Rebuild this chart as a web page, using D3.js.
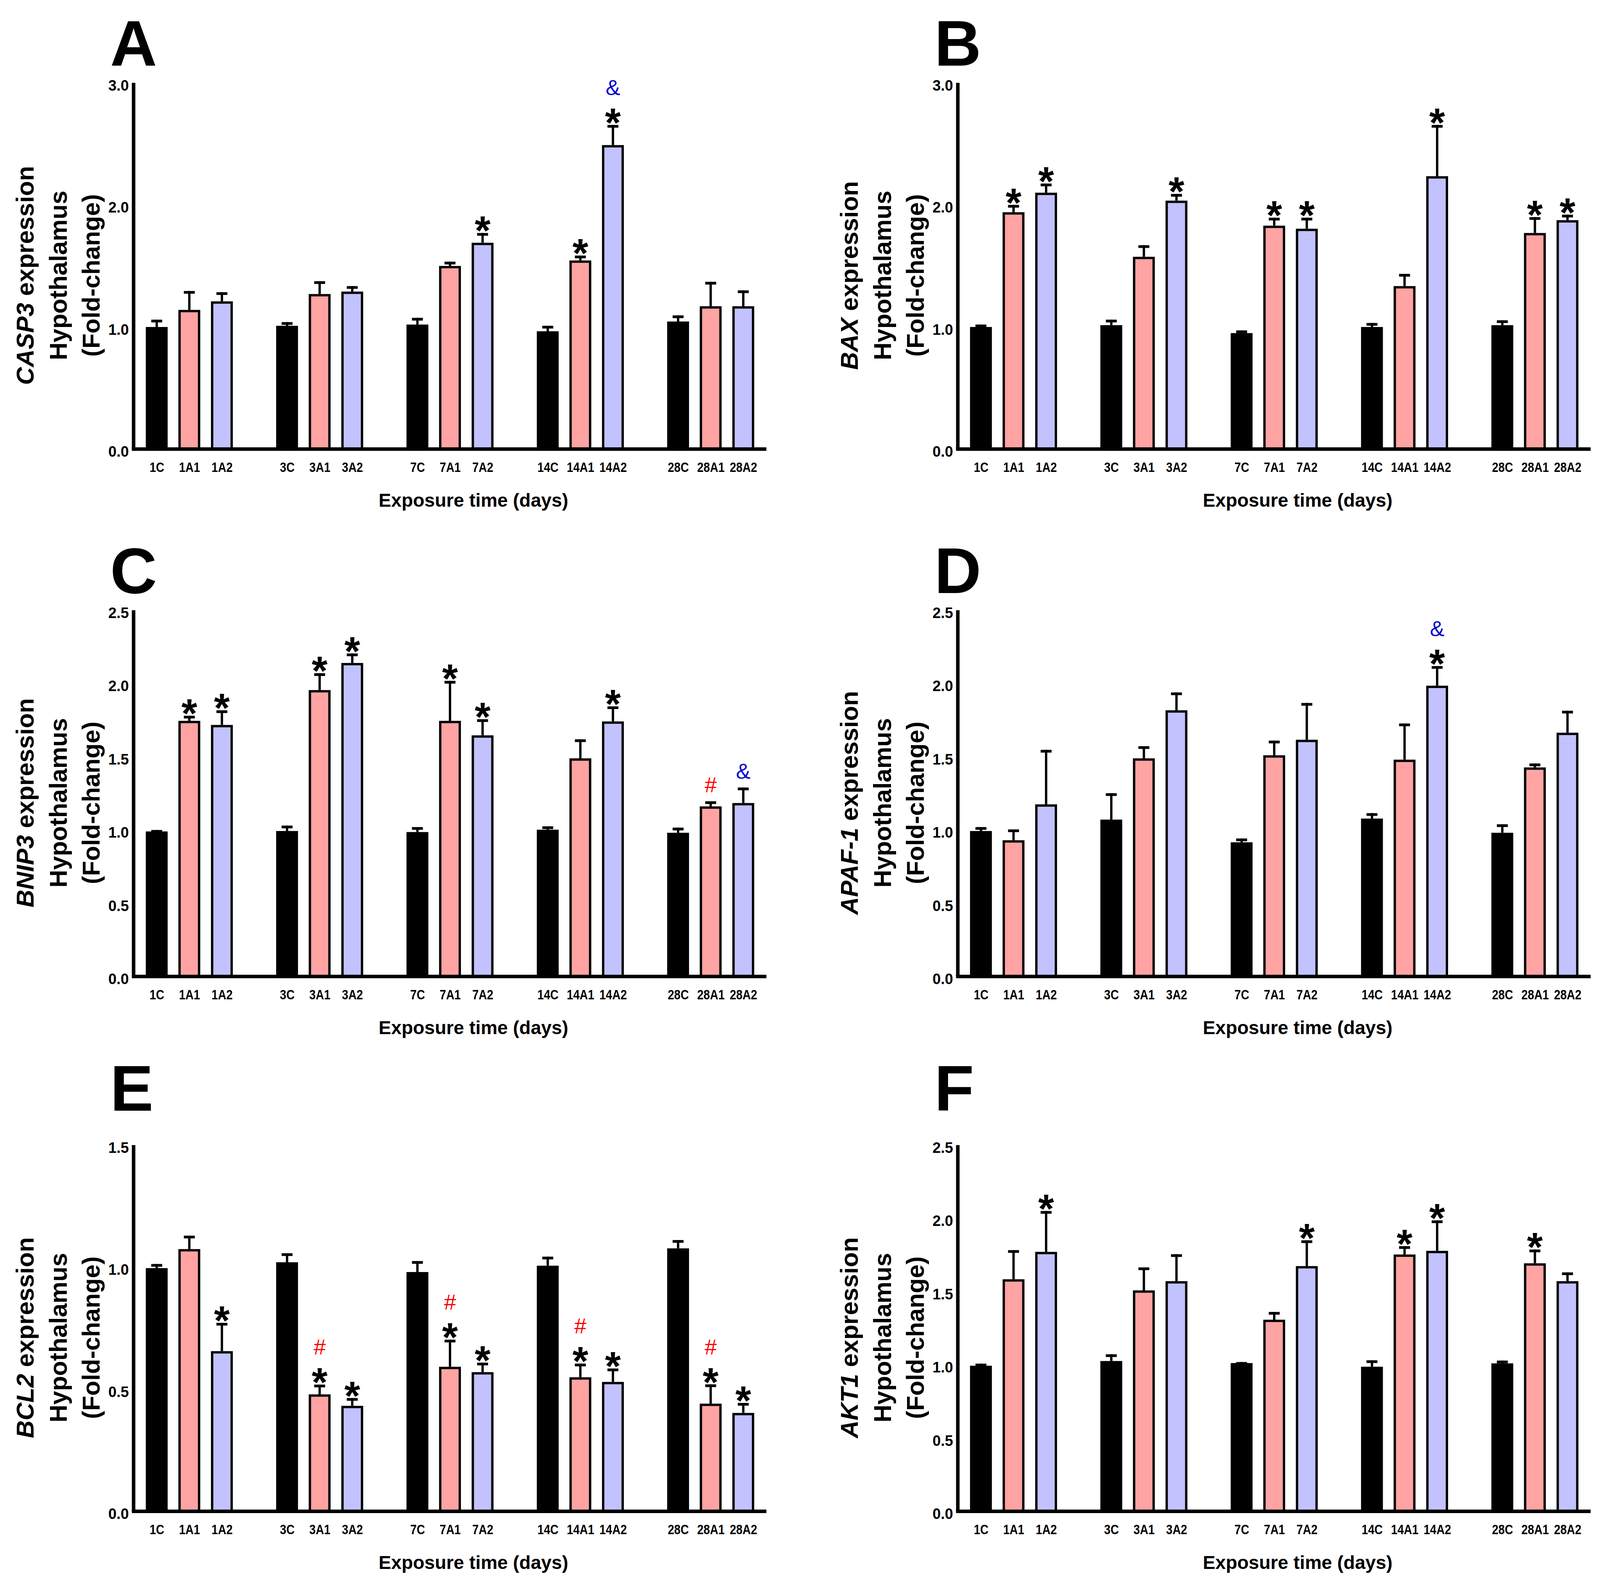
<!DOCTYPE html>
<html>
<head>
<meta charset="utf-8">
<script src="https://cdn.jsdelivr.net/npm/d3@7"></script>
<style>
  body { margin: 0; background: #fff; }
  text { font-family: "Liberation Sans", Arial, sans-serif; }
</style>
</head>
<body>
<svg id="fig" width="4113" height="4075"></svg>
<script>

// groups on the x axis
const days = ["1", "3", "7", "14", "28"]
const arms = ["C", "A1", "A2"]

// y tick values
const ticksTo3 = [0, 1, 2, 3]
const ticksTo25 = [0, 0.5, 1, 1.5, 2, 2.5]
const ticksTo15 = [0, 0.5, 1, 1.5]

// A - CASP3
const casp3Mean = [1.00, 1.14, 1.21, 1.01, 1.27, 1.29, 1.02, 1.50, 1.69, 0.965, 1.545, 2.49, 1.045, 1.17, 1.17]
const casp3Sem = [0.06, 0.155, 0.075, 0.03, 0.105, 0.045, 0.055, 0.035, 0.08, 0.045, 0.04, 0.165, 0.05, 0.20, 0.13]
const casp3Marks = ["", "", "", "", "", "", "", "", "*", "", "*", "*&", "", "", ""]

// B - BAX
const baxMean = [1.00, 1.94, 2.10, 1.015, 1.575, 2.035, 0.95, 1.83, 1.805, 1.00, 1.335, 2.235, 1.015, 1.77, 1.875]
const baxSem = [0.02, 0.06, 0.075, 0.045, 0.095, 0.055, 0.022, 0.065, 0.09, 0.033, 0.10, 0.42, 0.04, 0.13, 0.045]
const baxMarks = ["", "*", "*", "", "", "*", "", "*", "*", "", "", "*", "", "*", "*"]

// C - BNIP3
const bnip3Mean = [0.99, 1.745, 1.717, 0.993, 1.955, 2.14, 0.986, 1.745, 1.646, 1.002, 1.489, 1.741, 0.981, 1.161, 1.184]
const bnip3Sem = [0.01, 0.035, 0.10, 0.037, 0.115, 0.065, 0.034, 0.273, 0.11, 0.023, 0.13, 0.103, 0.035, 0.035, 0.106]
const bnip3Marks = ["", "*", "*", "", "*", "*", "", "*", "*", "", "", "*", "", "#", "&"]

// D - APAF-1
const apaf1Mean = [0.993, 0.93, 1.175, 1.071, 1.489, 1.817, 0.916, 1.51, 1.616, 1.078, 1.48, 1.985, 0.981, 1.427, 1.664]
const apaf1Sem = [0.027, 0.074, 0.372, 0.18, 0.083, 0.122, 0.026, 0.10, 0.251, 0.037, 0.247, 0.134, 0.058, 0.027, 0.15]
const apaf1Marks = ["", "", "", "", "", "", "", "", "", "", "", "*&", "", "", ""]

// E - BCL2
const bcl2Mean = [0.996, 1.074, 0.656, 1.02, 0.479, 0.432, 0.98, 0.592, 0.57, 1.006, 0.549, 0.53, 1.077, 0.441, 0.403]
const bcl2Sem = [0.017, 0.055, 0.116, 0.037, 0.04, 0.032, 0.045, 0.111, 0.039, 0.037, 0.056, 0.055, 0.034, 0.079, 0.041]
const bcl2Marks = ["", "", "*", "", "*#", "*", "", "*#", "*", "", "*#", "*", "", "*#", "*"]

// F - AKT1
const akt1Mean = [0.994, 1.584, 1.771, 1.026, 1.508, 1.571, 1.012, 1.308, 1.674, 0.987, 1.753, 1.778, 1.01, 1.693, 1.571]
const akt1Sem = [0.014, 0.199, 0.279, 0.046, 0.157, 0.184, 0.007, 0.053, 0.176, 0.044, 0.057, 0.208, 0.019, 0.094, 0.06]
const akt1Marks = ["", "", "*", "", "", "", "", "", "*", "", "*", "*", "", "*", ""]


const armFill = {C: "#000000", A1: "#FFA3A3", A2: "#C2C2FF"}
const markColor = {"#": "#FF0000", "&": "#0000CC"}

const W = 1620, H = 937.5

const panels = [
    {letter: "A", gene: "CASP3", mean: casp3Mean, sem: casp3Sem, marks: casp3Marks, yMax: 3, ticks: ticksTo3, ox: 342, oy: 212, ly: 168},
    {letter: "B", gene: "BAX", mean: baxMean, sem: baxSem, marks: baxMarks, yMax: 3, ticks: ticksTo3, ox: 2452, oy: 212, ly: 168},
    {letter: "C", gene: "BNIP3", mean: bnip3Mean, sem: bnip3Sem, marks: bnip3Marks, yMax: 2.5, ticks: ticksTo25, ox: 342, oy: 1562, ly: 1518},
    {letter: "D", gene: "APAF-1", mean: apaf1Mean, sem: apaf1Sem, marks: apaf1Marks, yMax: 2.5, ticks: ticksTo25, ox: 2452, oy: 1562, ly: 1518},
    {letter: "E", gene: "BCL2", mean: bcl2Mean, sem: bcl2Sem, marks: bcl2Marks, yMax: 1.5, ticks: ticksTo15, ox: 342, oy: 2931, ly: 2843},
    {letter: "F", gene: "AKT1", mean: akt1Mean, sem: akt1Sem, marks: akt1Marks, yMax: 2.5, ticks: ticksTo25, ox: 2452, oy: 2931, ly: 2843}
]

const svg = d3.select("#fig")
svg.append("rect").attr("width", 4113).attr("height", 4075).attr("fill", "#fff")

const drawPanel = (p) => {

    // panel letter
    svg.append("text")
        .attr("x", p.ox - 60)
        .attr("y", p.ly)
        .style("font-size", "166px")
        .style("font-weight", "bold")
        .text(p.letter)

    let g = svg.append("g").attr("transform", "translate(" + p.ox + "," + p.oy + ")")

    // 5 groups of 3 bars, one empty slot between groups
    let x = d3.scaleLinear().domain([-0.71, 18.71]).range([0, W])
    let y = d3.scaleLinear().domain([0, p.yMax]).range([H, 0])

    let rows = p.mean.map((m, i) => ({
        label: days[Math.floor(i / 3)] + arms[i % 3],
        arm: arms[i % 3],
        slot: Math.floor(i / 3) * 4 + i % 3,
        mean: m,
        sem: p.sem[i],
        mark: p.marks[i]
    }))

    let bar = g.selectAll(".bar")
        .data(rows)
        .enter().append("g")
        .attr("class", "bar")

    bar.append("rect")
        .attr("x", d => x(d.slot) - 25)
        .attr("width", 50)
        .attr("y", d => y(d.mean) + 3)
        .attr("height", d => y(0) - y(d.mean) - 3)
        .style("fill", d => armFill[d.arm])
        .style("stroke", "#000")
        .style("stroke-width", 6)

    // upper error bar only
    bar.append("line")
        .attr("x1", d => x(d.slot))
        .attr("x2", d => x(d.slot))
        .attr("y1", d => y(d.mean))
        .attr("y2", d => y(d.mean + d.sem))
        .style("stroke", "#000")
        .style("stroke-width", 6)

    bar.append("rect")
        .attr("x", d => x(d.slot) - 14)
        .attr("width", 28)
        .attr("y", d => y(d.mean + d.sem))
        .attr("height", 7)
        .style("fill", "#000")

    // significance marks: * just over the cap, # or & above it
    bar.filter(d => d.mark.includes("*"))
        .append("text")
        .attr("x", d => x(d.slot))
        .attr("y", d => y(d.mean + d.sem) + 30)
        .attr("text-anchor", "middle")
        .style("font-size", "104px")
        .style("font-weight", "bold")
        .text("*")

    bar.filter(d => d.mark.replace("*", "") !== "")
        .append("text")
        .attr("x", d => x(d.slot))
        .attr("y", d => y(d.mean + d.sem) - (d.mark.includes("*") ? 77 : 23))
        .attr("text-anchor", "middle")
        .style("font-size", "56px")
        .style("fill", d => markColor[d.mark.replace("*", "")])
        .text(d => d.mark.replace("*", ""))

    // axes
    let xAxis = g.append("g")
        .attr("transform", "translate(0," + H + ")")
        .call(d3.axisBottom(x)
            .tickValues(rows.map(d => d.slot))
            .tickFormat((s, i) => rows[i].label)
            .tickSize(0)
            .tickSizeOuter(0)
            .tickPadding(34))

    xAxis.select(".domain")
        .attr("d", "M-4.5,0H" + W)
        .style("stroke", "#000")
        .style("stroke-width", 9)

    // labels are a narrow bold face in the original
    xAxis.selectAll(".tick text")
        .attr("fill", "#000")
        .attr("transform", "scale(0.84,1)")
        .style("font-size", "35px")
        .style("font-weight", "bold")

    let yAxis = g.append("g")
        .call(d3.axisLeft(y)
            .tickValues(p.ticks)
            .tickFormat(d3.format(".1f"))
            .tickSize(0)
            .tickSizeOuter(0)
            .tickPadding(12))

    yAxis.select(".domain")
        .attr("d", "M0,0V" + H)
        .style("stroke", "#000")
        .style("stroke-width", 9)

    yAxis.selectAll("text")
        .attr("fill", "#000")
        .attr("dy", "0.5em")
        .style("font-size", "38px")
        .style("font-weight", "bold")

    // y label, three lines
    let yLabel = g.append("text")
        .attr("transform", "translate(-256," + 493 + ") rotate(-90)")
        .attr("text-anchor", "middle")
        .style("font-size", "63px")
        .style("font-weight", "bold")
    yLabel.append("tspan").style("font-style", "italic").text(p.gene)
    yLabel.append("tspan").text(" expression")

    g.append("text")
        .attr("transform", "translate(-171," + 493 + ") rotate(-90)")
        .attr("text-anchor", "middle")
        .style("font-size", "63px")
        .style("font-weight", "bold")
        .text("Hypothalamus")

    g.append("text")
        .attr("transform", "translate(-87," + 493 + ") rotate(-90)")
        .attr("text-anchor", "middle")
        .style("font-size", "63px")
        .style("font-weight", "bold")
        .text("(Fold-change)")

    // x title
    g.append("text")
        .attr("x", 870)
        .attr("y", H + 147.5)
        .attr("text-anchor", "middle")
        .style("font-size", "48px")
        .style("font-weight", "bold")
        .text("Exposure time (days)")
}

panels.forEach(drawPanel)

</script>
</body>
</html>
